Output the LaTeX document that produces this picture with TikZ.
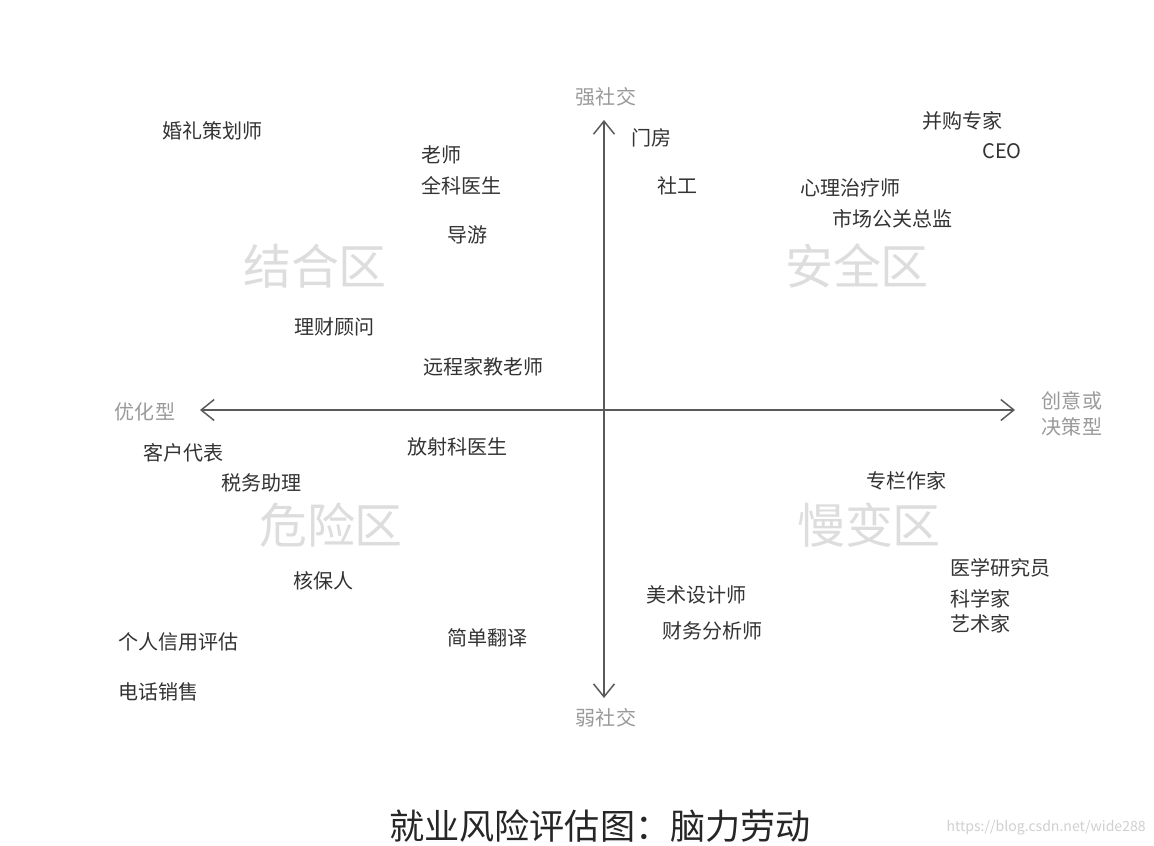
\documentclass[tikz,border=0pt]{standalone}
\usepackage{fontspec}
\usepackage{xcolor}
\usepackage{tikz}
\usetikzlibrary{arrows.meta, positioning}
\newfontfamily\cjk{Noto Sans CJK SC}
\definecolor{labelgray}{HTML}{333333}
\definecolor{axisgray}{HTML}{5A5A5A}
\definecolor{sidegray}{HTML}{9A9A9A}
\definecolor{zonegray}{HTML}{DDDDDD}
\definecolor{markgray}{HTML}{D0D0D0}

\begin{document}
\begin{tikzpicture}[
        x=0.02cm, y=-0.02cm,
        job/.style={
            anchor=west,
            inner sep=0pt,
            text=labelgray,
            font=\cjk\fontsize{11.4}{13}\selectfont
        },
        side/.style={
            inner sep=0pt,
            text=sidegray,
            align=center,
            font=\cjk\fontsize{11.4}{15}\selectfont
        },
        zone/.style={
            inner sep=0pt,
            text=zonegray,
            font=\cjk\fontsize{27.3}{30}\selectfont
        },
        axis/.style={
            {Straight Barb[length=2.6mm, width=4.2mm]}-{Straight Barb[length=2.6mm, width=4.2mm]},
            line width=0.85pt, draw=axisgray
        }
    ]
        \useasboundingbox[fill=white] (0,0) rectangle (1154,846);

        % axes
        \coordinate (top) at (604,120);
        \coordinate (bottom) at (604,698);
        \coordinate (left) at (200,410);
        \coordinate (right) at (1015,410);
        \draw[axis] (bottom) -- (top);
        \draw[axis] (left) -- (right);

        \node[side] (strong) at (606,97) {强社交};
        \node[side] (weak) at (606,718) {弱社交};
        \node[side] (optim) at (145,412) {优化型};
        \node[side] (creative) at (1072,414) {创意或\\决策型};

        % zones
        \node[zone] (combine) at (315,266) {结合区};
        \node[zone] (safe) at (857,266) {安全区};
        \node[zone] (danger) at (331,525) {危险区};
        \node[zone] (slow) at (869,525) {慢变区};

        % upper left
        \node[job] (wedding) at (162,131) {婚礼策划师};
        \node[job] (teacher) at (421,155) {老师};
        \node[job] (doctor) at (421,186) {全科医生};
        \node[job] (guide) at (447,235) {导游};
        \node[job] (advisor) at (294,327) {理财顾问};
        \node[job] (tutor) at (423,367) {远程家教老师};

        % upper right
        \node[job] (porter) at (631,138) {门房};
        \node[job] (social) at (657,186) {社工};
        \node[job] (merger) at (922,121) {并购专家};
        \node[job] (ceo) at (982,151) {CEO};
        \node[job] (therapist) at (800,188) {心理治疗师};
        \node[job] (pr) at (832,219) {市场公关总监};

        % lower left
        \node[job] (rep) at (143,453) {客户代表};
        \node[job] (tax) at (221,483) {税务助理};
        \node[job] (radio) at (407,447) {放射科医生};
        \node[job] (under) at (293,581) {核保人};
        \node[job] (credit) at (118,642) {个人信用评估};
        \node[job] (phone) at (118,692) {电话销售};
        \node[job] (transl) at (447,638) {简单翻译};

        % lower right
        \node[job] (column) at (866,481) {专栏作家};
        \node[job] (medres) at (950,568) {医学研究员};
        \node[job] (scient) at (950,599) {科学家};
        \node[job] (artist) at (950,624) {艺术家};
        \node[job] (design) at (646,595) {美术设计师};
        \node[job] (analyst) at (662,631) {财务分析师};

        % caption
        \node[font=\cjk\fontsize{20}{22}\selectfont, text=black!85, inner sep=0pt] (caption) at (600,826) {就业风险评估图：脑力劳动};
        \node[font=\cjk\fontsize{8}{9}\selectfont, text=markgray, inner sep=0pt, anchor=east] (mark) at (1146,828) {https://blog.csdn.net/wide288};
    \end{tikzpicture}
\end{document}
